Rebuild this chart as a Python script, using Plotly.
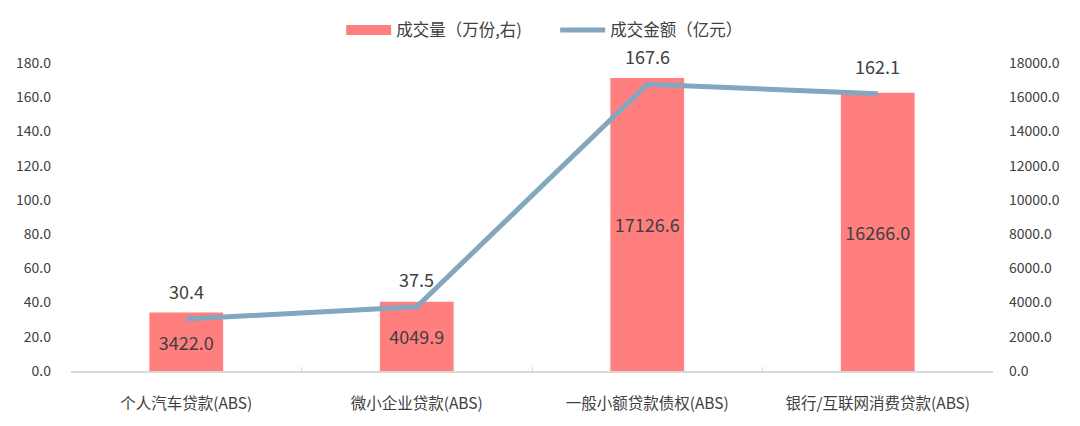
import plotly.graph_objects as go

# Data
categories = ["个人汽车贷款(ABS)", "微小企业贷款(ABS)", "一般小额贷款债权(ABS)", "银行/互联网消费贷款(ABS)"]
volume = [3422.0, 4049.9, 17126.6, 16266.0]   # 成交量（万份,右）
amount = [30.4, 37.5, 167.6, 162.1]           # 成交金额（亿元）

left_ticks = [0, 20, 40, 60, 80, 100, 120, 140, 160, 180]
right_ticks = [0, 2000, 4000, 6000, 8000, 10000, 12000, 14000, 16000, 18000]

FONT = "Noto Sans CJK SC, Noto Sans, sans-serif"
TXT = "#404040"
BAR_C = "#FF7F7F"
LINE_C = "#82A7BF"

fig = go.Figure()
# bars on the right axis (primary y so the line draws on top)
fig.add_trace(go.Bar(
    x=categories, y=volume, name="成交量（万份,右)", yaxis="y", showlegend=False,
    marker=dict(color=BAR_C, line=dict(width=0)), width=0.32,
    text=[f"{v:.1f}" for v in volume], textposition="inside", textangle=0,
    insidetextanchor="middle", textfont=dict(size=18, color=TXT, family=FONT),
))
# legend entry with wide swatch for bars
fig.add_trace(go.Scatter(
    x=[None], y=[None], name="成交量（万份,右)", mode="lines",
    line=dict(color=BAR_C, width=11),
))
fig.add_trace(go.Scatter(
    x=categories, y=amount, name="成交金额（亿元）", mode="lines", yaxis="y2",
    line=dict(color=LINE_C, width=5),
))

# labels above the line points
for c, a in zip(categories, amount):
    fig.add_annotation(x=c, y=a, yref="y2", text=f"{a:.1f}", showarrow=False,
                       yshift=28, font=dict(size=18, color=TXT, family=FONT))

fig.update_layout(
    width=1080, height=426,
    margin=dict(l=63, r=95, t=55, b=63),
    plot_bgcolor="white", paper_bgcolor="white",
    font=dict(family=FONT, size=14, color=TXT),
    showlegend=True,
    legend=dict(orientation="h", x=0.293, xanchor="left", yref="container",
                y=0.948, yanchor="middle",
                font=dict(size=16.5, color=TXT), traceorder="normal", itemwidth=45,
                entrywidth=154, entrywidthmode="pixels"),
    xaxis=dict(showline=True, linecolor="#D9D9D9", linewidth=1.5, ticks="inside",
               tickson="boundaries", ticklen=4, tickcolor="#D9D9D9", automargin=False,
               ticklabelstandoff=18,
               showgrid=False, tickfont=dict(size=15.5, color=TXT)),
    yaxis=dict(range=[0, 18000], tickvals=right_ticks, side="right",
               ticktext=[f"{t:.1f}" for t in right_ticks], showgrid=False,
               zeroline=False, showline=False, ticks="", ticklabelstandoff=15,
               automargin=False, tickfont=dict(size=14, color=TXT)),
    yaxis2=dict(range=[0, 180], tickvals=left_ticks, overlaying="y", side="left",
                ticktext=[f"{t:.1f}" for t in left_ticks], showgrid=False,
                zeroline=False, showline=False, ticks="", ticklabelstandoff=19,
                automargin=False, tickfont=dict(size=14, color=TXT)),
    bargap=0.68,
)

fig.write_html("out.html")
